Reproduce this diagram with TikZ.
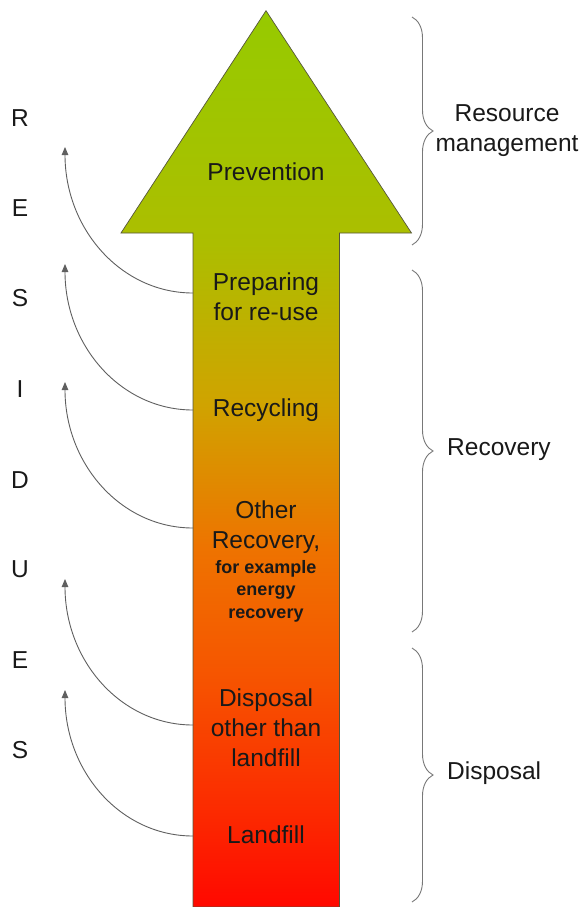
\documentclass[tikz,border=0pt]{standalone}
\usepackage{fontspec}
\setmainfont{Liberation Sans}
\usetikzlibrary{arrows.meta,decorations.pathreplacing}
\definecolor{s0}{RGB}{255,8,0}
\definecolor{s1}{RGB}{252,40,0}
\definecolor{s2}{RGB}{246,85,0}
\definecolor{s3}{RGB}{238,115,0}
\definecolor{s4}{RGB}{208,163,0}
\definecolor{s5}{RGB}{172,190,0}
\definecolor{s6}{RGB}{150,202,0}
\definecolor{txt}{RGB}{25,25,25}
\definecolor{cgray}{RGB}{95,95,95}
\definecolor{bgray}{RGB}{120,120,120}
\definecolor{outl}{RGB}{85,85,60}
\pgfdeclareverticalshading{arrowshade}{100bp}{color(0bp)=(s0); color(25bp)=(s0); color(30bp)=(s1); color(38bp)=(s2); color(45bp)=(s3); color(53bp)=(s4); color(62bp)=(s5); color(75bp)=(s6); color(100bp)=(s6)}
\tikzset{
  lbl/.style={font=\fontsize{24.5}{30}\selectfont, text=txt, align=center, inner sep=0pt},
  smalllbl/.style={font=\fontsize{18}{22.5}\selectfont\bfseries, text=txt, align=center, inner sep=0pt},
  letter/.style={font=\fontsize{24.5}{30}\selectfont, text=txt, inner sep=0pt},
  curvearrow/.style={draw=cgray, line width=0.9pt, -{Triangle[length=8pt,width=6.5pt]}},
  brc/.style={draw=bgray, line width=0.9pt, decorate, decoration={brace, amplitude=21pt}},
}
\begin{document}
\begin{tikzpicture}[x=1pt,y=-1pt]
\useasboundingbox (0,0) rectangle (585,907);
% big arrow
\path[draw=outl, line width=0.7pt, shade, shading=arrowshade]
  (266,10.7) -- (411.5,233) -- (339.5,233) -- (339.5,907) -- (193,907)
  -- (193,233) -- (121,233) -- cycle;
% labels in arrow
\node[lbl] (prev) at (266,172) {Prevention};
\node[lbl] (prep) at (266,297) {Preparing\\for re-use};
\node[lbl] (recy) at (266,410) {Recycling};
\node[lbl] (othr) at (266,527) {Other\\Recovery,};
\node[smalllbl] (othex) at (266,591) {for example\\energy\\recovery};
\node[lbl] (disp) at (266,728) {Disposal\\other than\\landfill};
\node[lbl] (land) at (266,835) {Landfill};
% letters
\node[letter] (l1) at (20,118) {R};
\node[letter] (l2) at (20,208) {E};
\node[letter] (l3) at (20,298) {S};
\node[letter] (l4) at (20,389) {I};
\node[letter] (l5) at (20,480) {D};
\node[letter] (l6) at (20,569) {U};
\node[letter] (l7) at (20,660) {E};
\node[letter] (l8) at (20,750) {S};
% curved arrows
\coordinate (s1) at (193,293); \coordinate (t1) at (65,147);
\coordinate (s2) at (193,410); \coordinate (t2) at (65,264);
\coordinate (s3) at (193,528); \coordinate (t3) at (65,382);
\coordinate (s4) at (193,725); \coordinate (t4) at (65,579);
\coordinate (s5) at (193,836); \coordinate (t5) at (65,690);
\foreach \i in {1,...,5}{
  \draw[curvearrow] (s\i) .. controls +(-72,0) and +(0,82) .. (t\i);
}
% braces
\coordinate (b1a) at (412,17);  \coordinate (b1b) at (412,245);
\coordinate (b2a) at (412,270); \coordinate (b2b) at (412,632);
\coordinate (b3a) at (412,648); \coordinate (b3b) at (412,902);
\draw[brc] (b1a) -- (b1b);
\draw[brc] (b2a) -- (b2b);
\draw[brc] (b3a) -- (b3b);
\node[lbl] (rm) at (507,131) {Resource\\management};
\node[lbl, anchor=west] (rc) at (447,450) {Recovery};
\node[lbl, anchor=west] (ds) at (447,773) {Disposal};
\end{tikzpicture}
\end{document}
